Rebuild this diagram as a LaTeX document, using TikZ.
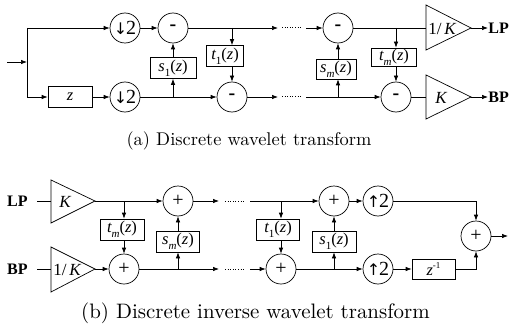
\documentclass[tikz,border=0pt]{standalone}
\usepackage{fontspec}
\newfontfamily\tnr{Liberation Serif}
\newfontfamily\dvs{DejaVu Sans}
\newfontfamily\lmten[Extension=.otf]{lmroman10-regular}
\usetikzlibrary{arrows.meta,calc}
\newcommand\tfn[2]{{\itshape #1}\raisebox{-0.3em}{\fontsize{11}{11}\selectfont #2}({\itshape z})}
\newcommand\dtwo{{\dvs\fontsize{16}{16}\selectfont\char"2193}\kern-1pt 2}
\newcommand\utwo{{\dvs\fontsize{16}{16}\selectfont\char"2191}\kern-1pt 2}
\begin{document}
\begin{tikzpicture}[x=1pt,y=-1pt, line width=0.7pt,
  >={Latex[length=6pt,width=4.5pt]},
  circ/.style={circle,draw,minimum size=30pt,inner sep=0pt,font=\tnr\fontsize{20}{20}\selectfont},
  blk/.style={draw,inner sep=0pt,minimum height=21pt,font=\tnr\fontsize{16.5}{18}\selectfont},
  lbl/.style={font=\tnr\bfseries\fontsize{16}{18}\selectfont,inner sep=0pt},
  tritxt/.style={font=\tnr\fontsize{17}{18}\selectfont,inner sep=0pt},
  dotsln/.style={dash pattern=on 1pt off 1.6pt, line width=1pt},
  captxt/.style={anchor=base,inner sep=0pt}
]
\useasboundingbox (0,0) rectangle (513,326);

% ===================== (a) =====================
\coordinate (in) at (7,62);
\coordinate (j0) at (27,62);
\coordinate (jt) at (27,28);
\coordinate (jb) at (27,97);
\node[circ] (d1) at (125,28) {\dtwo};
\node[circ] (d2) at (125,97) {\dtwo};
\node[blk,minimum width=44pt] (zb) at (70,97) {\itshape z};
\node[circ] (m1) at (173,28) {\bfseries -};
\node[blk,minimum width=46pt] (s1) at (173,68) {\tfn{s}{1}};
\node[blk,minimum width=37pt] (t1) at (225,56) {\tfn{t}{1}};
\node[circ] (m2) at (232,97) {\bfseries -};
\node[circ] (mm1) at (338,28) {\bfseries -};
\node[blk,minimum width=40pt,minimum height=20pt] (sm) at (336,69) {\tfn{s}{\itshape m}};
\node[blk,minimum width=45pt,minimum height=18pt] (tm) at (394,57) {\tfn{t}{\itshape m}};
\node[circ] (mm2) at (396,97) {\bfseries -};
\draw (426,5) -- (471,28) -- (426,50) -- cycle;
\draw (426,75) -- (471,97) -- (426,119) -- cycle;
\coordinate (tri1in) at (426,28); \coordinate (tri1out) at (471,28);
\coordinate (tri2in) at (426,97); \coordinate (tri2out) at (471,97);
\node[tritxt] (g1) at (442,29) {1/\,{\itshape K}};
\node[tritxt] (g2) at (441,98) {\itshape K};
\node[lbl,anchor=west] (lp) at (488,28) {LP};
\node[lbl,anchor=west] (bp) at (488,97) {BP};

\draw[->] (in) -- (j0);
\draw (jt) -- (jb);
\draw[->] (jt) -- (d1);
\draw[->] (jb) -- (zb);
\draw[->] (zb) -- (d2);
\draw[->] (d1) -- (m1);
\draw[->] (d2) -- (m2);
\coordinate (js1) at (173,97);
\draw[->] (js1) -- (s1);
\draw[->] (s1) -- (m1);
\coordinate (jt1) at (232,28);
\draw[->] (jt1) -- (jt1 |- t1.north);
\draw[->] (jt1 |- t1.south) -- (m2);
\coordinate (a1) at (278,28); \coordinate (a1e) at (301,28); \coordinate (b1) at (306,28);
\draw[->] (m1) -- (a1);
\draw[dotsln] ($(a1)+(4,0)$) -- (a1e);
\draw[->] (b1) -- (mm1);
\coordinate (a2) at (278,97); \coordinate (a2e) at (301,97); \coordinate (b2) at (306,97);
\draw[->] (m2) -- (a2);
\draw[dotsln] ($(a2)+(4,0)$) -- (a2e);
\draw[->] (b2) -- (mm2);
\coordinate (jsm) at (338,97);
\draw[->] (jsm) -- (jsm |- sm.south);
\draw[->] (jsm |- sm.north) -- (mm1);
\coordinate (jtm) at (396,28);
\draw[->] (jtm) -- (jtm |- tm.north);
\draw[->] (jtm |- tm.south) -- (mm2);
\draw (mm1) -- (tri1in);
\draw (mm2) -- (tri2in);
\draw[->] (tri1out) -- (lp);
\draw[->] (tri2out) -- (bp);

\node[captxt,font=\lmten\fontsize{18.4}{20}\selectfont] (capa) at (249,145) {(a)\ Discrete wavelet transform};

% ===================== (b) =====================
\node[lbl,anchor=east] (lp2) at (28,201) {LP};
\node[lbl,anchor=east] (bp2) at (28,269) {BP};
\draw (51,180) -- (95,201) -- (51,223) -- cycle;
\draw (51,247) -- (95,269) -- (51,292) -- cycle;
\coordinate (t3in) at (51,201); \coordinate (t3out) at (95,201);
\coordinate (t4in) at (51,269); \coordinate (t4out) at (95,269);
\coordinate (lp2e) at (37,201); \coordinate (bp2e) at (37,269);
\node[tritxt] (g3) at (65,202) {\itshape K};
\node[tritxt] (g4) at (67,270) {1/\,{\itshape K}};
\node[circ] (p1) at (178,201) {+};
\node[circ] (p2) at (124,269) {+};
\node[blk,minimum width=44pt] (tmb) at (122,229.5) {\tfn{t}{\itshape m}};
\node[blk,minimum width=43pt] (smb) at (178,241.5) {\tfn{s}{\itshape m}};
\node[circ] (p3) at (334,201) {+};
\node[circ] (p4) at (281,269) {+};
\node[blk,minimum width=43pt] (t1b) at (278,229.5) {\tfn{t}{1}};
\node[blk,minimum width=44pt] (s1b) at (334,241.5) {\tfn{s}{1}};
\node[circ] (u1) at (378,201) {\utwo};
\node[circ] (u2) at (378,269) {\utwo};
\node[blk,minimum width=43pt,minimum height=20pt] (zi) at (433.5,269) {{\itshape z}\raisebox{0.45em}{\fontsize{9}{9}\selectfont -1}};
\node[circ] (pf) at (476,236) {+};
\coordinate (out) at (508,236);

\draw (lp2e) -- (t3in);
\draw (bp2e) -- (t4in);
\draw[->] (t3out) -- (p1);
\draw[->] (t4out) -- (p2);
\coordinate (jtmb) at (124,201);
\draw[->] (jtmb) -- (jtmb |- tmb.north);
\draw[->] (jtmb |- tmb.south) -- (p2);
\coordinate (jsmb) at (178,269);
\draw[->] (jsmb) -- (smb);
\draw[->] (smb) -- (p1);
\coordinate (c1) at (219,201); \coordinate (c1e) at (245,201); \coordinate (e1) at (250,201);
\draw[->] (p1) -- (c1);
\draw[dotsln] ($(c1)+(6,0)$) -- (c1e);
\draw[->] (e1) -- (p3);
\coordinate (c2) at (219,269); \coordinate (c2e) at (245,269); \coordinate (e2) at (250,269);
\draw[->] (p2) -- (c2);
\draw[dotsln] ($(c2)+(6,0)$) -- (c2e);
\draw[->] (e2) -- (p4);
\coordinate (jt1b) at (281,201);
\draw[->] (jt1b) -- (jt1b |- t1b.north);
\draw[->] (jt1b |- t1b.south) -- (p4);
\coordinate (js1b) at (334,269);
\draw[->] (js1b) -- (s1b);
\draw[->] (s1b) -- (p3);
\draw[->] (p3) -- (u1);
\draw[->] (p4) -- (u2);
\draw[->] (u2) -- (zi);
\draw[->] (u1) -| (pf);
\draw[->] (zi) -| (pf);
\draw[->] (pf) -- (out);

\node[captxt,font=\lmten\fontsize{20.9}{23}\selectfont] (capb) at (255.5,318) {(b)\ Discrete inverse wavelet transform};
\end{tikzpicture}
\end{document}
